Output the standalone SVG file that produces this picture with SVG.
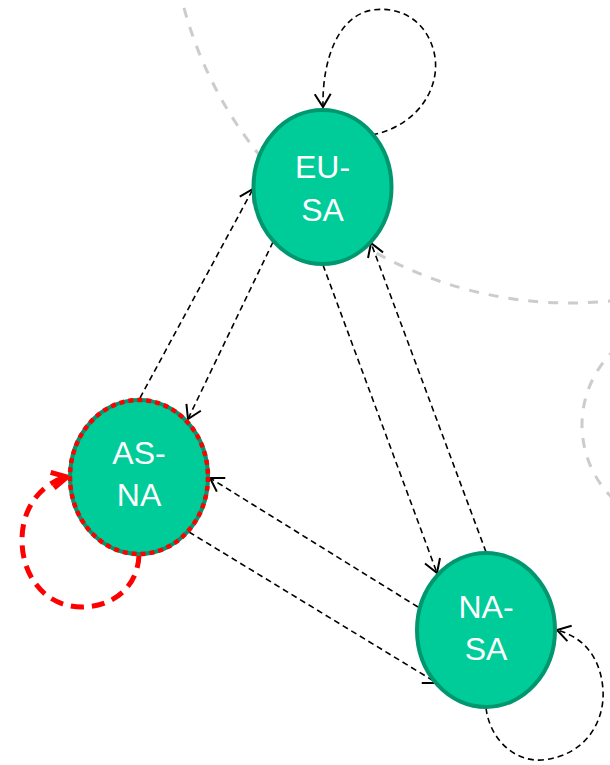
<svg xmlns="http://www.w3.org/2000/svg" width="610" height="765" viewBox="0 0 610 765">
<defs>
<style>
.bg{fill:none;stroke:#cccccc;stroke-width:3;stroke-dasharray:10 10}
.edge{fill:none;stroke:#000;stroke-width:1.6;stroke-dasharray:6 4;marker-end:url(#arr)}
.loopred{fill:none;stroke:#ff0000;stroke-width:5;stroke-dasharray:13 8;marker-end:url(#arrred)}
.node{fill:#00cc99;stroke:#00976f;stroke-width:4}
.dots{fill:none;stroke:#ff0000;stroke-width:4.5;stroke-dasharray:5 4}
.lbl{font-family:"Liberation Sans",Arial,sans-serif;font-size:32px;fill:#fff;text-anchor:middle}
</style>
<marker id="arr" viewBox="-16 -10 18 20" markerWidth="18" markerHeight="20" refX="0" refY="0" orient="auto" markerUnits="userSpaceOnUse">
<path d="M-13,-8 L0,0 L-13,8" fill="none" stroke="#000" stroke-width="2"/>
</marker>
<marker id="arrred" viewBox="-18 -10 20 20" markerWidth="20" markerHeight="20" refX="0" refY="0" orient="auto" markerUnits="userSpaceOnUse">
<path d="M-15,-8 L0,0 L-15,8" fill="none" stroke="#ff0000" stroke-width="5"/>
</marker>
</defs>
<rect width="610" height="765" fill="#fff"/>
<g id="background">
<circle class="bg" cx="570" cy="-97" r="400"/>
<circle class="bg" cx="685" cy="425" r="103"/>
</g>
<g id="connectors">
<path class="edge" d="M372,135 C420,125 442,85 434,52 C426,20 400,6 372,10 C338,16 322,60 323,107"/>
<path class="edge" d="M273,242 L188,419"/>
<path class="edge" d="M140,398 L253,189"/>
<path class="edge" d="M323,265 L437,573"/>
<path class="edge" d="M486,552 L371,243"/>
<path class="edge" d="M418,607 L210,478"/>
<path class="edge" d="M189,532 L437,683"/>
<path class="edge" d="M486,708 C490,740 515,762 542,760 C585,756 605,722 603,690 C601,660 586,638 557,630"/>
<path class="loopred" d="M139,555 C138,586 114,607 82,607 C45,607 22,576 22,540 C22,505 44,482 67,477"/>
</g>
<g id="EU-SA">
<ellipse class="node" cx="322.5" cy="187" rx="69" ry="77"/>
<text class="lbl" x="322.5" y="178">EU-</text>
<text class="lbl" x="322.5" y="221">SA</text>
</g>
<g id="AS-NA">
<ellipse class="node" cx="139" cy="477" rx="69" ry="77"/>
<ellipse class="dots" cx="139" cy="477" rx="69" ry="77"/>
<text class="lbl" x="139" y="464">AS-</text>
<text class="lbl" x="139" y="506">NA</text>
</g>
<g id="NA-SA">
<ellipse class="node" cx="486" cy="630" rx="69" ry="77"/>
<text class="lbl" x="486" y="618">NA-</text>
<text class="lbl" x="486" y="660">SA</text>
</g>
</svg>
